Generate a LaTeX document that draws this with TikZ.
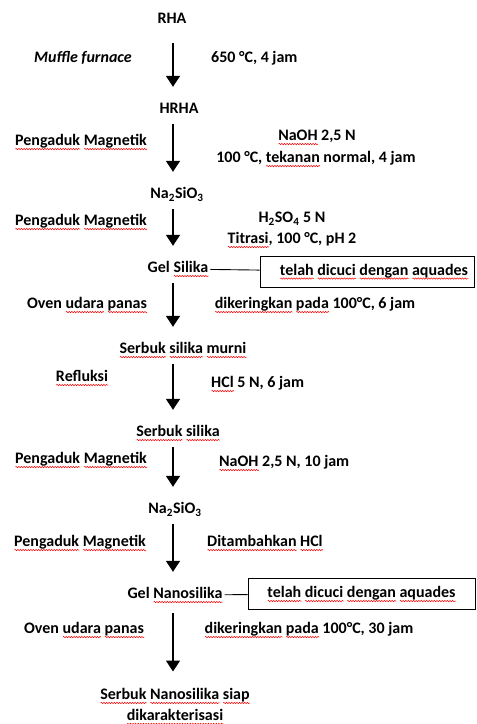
\documentclass[tikz,border=0pt]{standalone}
\usepackage{fontspec}
\setmainfont{Carlito}
\usetikzlibrary{arrows.meta,decorations.pathmorphing}
% red wavy spell-check mark
\newsavebox{\splbox}
\newcommand{\spl}[1]{\sbox{\splbox}{#1}\rlap{\raisebox{-4.5pt}{\tikz\draw[red, line width=0.5pt, decorate,
  decoration={snake, amplitude=0.7pt, segment length=2.6pt}] (0,0) -- (\the\wd\splbox,0);}}\usebox{\splbox}}
\begin{document}
\begin{tikzpicture}[x=1pt,y=-1pt,
  lbl/.style={font=\fontsize{16}{19}\selectfont\bfseries, text height=10pt, text depth=3pt, inner sep=2pt},
  flow/.style={-{Triangle[width=14pt,length=11pt]}, line width=1.6pt, shorten <=5.5pt, shorten >=14.5pt},
  notebox/.style={lbl, draw, line width=0.9pt, minimum height=31pt}]
\useasboundingbox (0,0) rectangle (477,724);
\coordinate (spine) at (173,0);
% main stages
\node[lbl] at (172,20) (rha) {RHA};
\node[lbl] at (179,110) (hrha) {HRHA};
\node[lbl] at (177,195) (nasil1) {Na\textsubscript{2}SiO\textsubscript{3}};
\node[lbl] at (178,269) (gel) {Gel \spl{Silika}};
\node[lbl] at (183,350) (murni) {\spl{Serbuk} \spl{silika} \spl{murni}};
\node[lbl] at (178,433) (serbuk) {\spl{Serbuk} \spl{silika}};
\node[lbl] at (175,510) (nasil2) {Na\textsubscript{2}SiO\textsubscript{3}};
\node[lbl] at (175,595) (gelnano) {Gel \spl{Nanosilika}};
\node[lbl, align=center, anchor=north, text height=, text depth=] at (175,686) (nano)
  {\spl{Serbuk} \spl{Nanosilika} \spl{siap}\\[2pt] \spl{dikarakterisasi}};
% left labels
\node[lbl, font=\fontsize{16}{19}\selectfont\bfseries\itshape] at (83,59) (muffle) {Muffle furnace};
\node[lbl] at (81,142) (mag1) {\spl{Pengaduk} \spl{Magnetik}};
\node[lbl] at (81,222) (mag2) {\spl{Pengaduk} \spl{Magnetik}};
\node[lbl] at (87,305) (oven1) {Oven \spl{udara} \spl{panas}};
\node[lbl] at (82,378) (reflux) {\spl{Refluksi}};
\node[lbl] at (81,460) (mag3) {\spl{Pengaduk} \spl{Magnetik}};
\node[lbl] at (80,543) (mag4) {\spl{Pengaduk} \spl{Magnetik}};
\node[lbl] at (84,630) (oven2) {Oven \spl{udara} \spl{panas}};
% right labels
\node[lbl, anchor=west] at (209,59) (cond1) {650 °C, 4 jam};
\node[lbl] at (317,137) (cond2a) {\spl{NaOH} 2,5 N};
\node[lbl] at (316,159) (cond2b) {100 °C, \spl{tekanan} normal, 4 jam};
\node[lbl] at (292,219) (cond3a) {H\textsubscript{2}SO\textsubscript{4} 5 N};
\node[lbl] at (292,240) (cond3b) {\spl{Titrasi}, 100 °C, pH 2};
\node[lbl] at (315,305) (cond4) {\spl{dikeringkan} \spl{pada} 100°C, 6 jam};
\node[lbl, anchor=west] at (209,384) (cond5) {\spl{HCl} 5 N, 6 jam};
\node[lbl, anchor=west] at (217,463) (cond6) {\spl{NaOH} 2,5 N, 10 jam};
\node[lbl, anchor=west] at (205,543) (cond7) {\spl{Ditambahkan} \spl{HCl}};
\node[lbl] at (309,630) (cond8) {\spl{dikeringkan} \spl{pada} 100°C, 30 jam};
% wash notes
\node[notebox, minimum width=214pt] at (367,271.5) (wash1) {\hspace*{14pt}\spl{telah} \spl{dicuci} \spl{dengan} \spl{aquades}};
\node[notebox, minimum width=227pt] at (361.5,594) (wash2) {\spl{telah} \spl{dicuci} \spl{dengan} \spl{aquades}};
\draw[line width=0.9pt] (gel) -- (wash1);
\draw[line width=0.9pt] (gelnano) -- (wash2);
% arrows
\draw[flow, shorten <=14.5pt] (spine |- rha.south) -- (spine |- hrha.north);
\draw[flow] (spine |- hrha.south) -- (spine |- nasil1.north);
\draw[flow] (spine |- nasil1.south) -- (spine |- gel.north);
\draw[flow] (spine |- gel.south) -- (spine |- murni.north);
\draw[flow] (spine |- murni.south) -- (spine |- serbuk.north);
\draw[flow] (spine |- serbuk.south) -- (spine |- nasil2.north);
\draw[flow] (spine |- nasil2.south) -- (spine |- gelnano.north);
\draw[flow, shorten <=9pt] (spine |- gelnano.south) -- (spine |- nano.north);
\end{tikzpicture}
\end{document}
